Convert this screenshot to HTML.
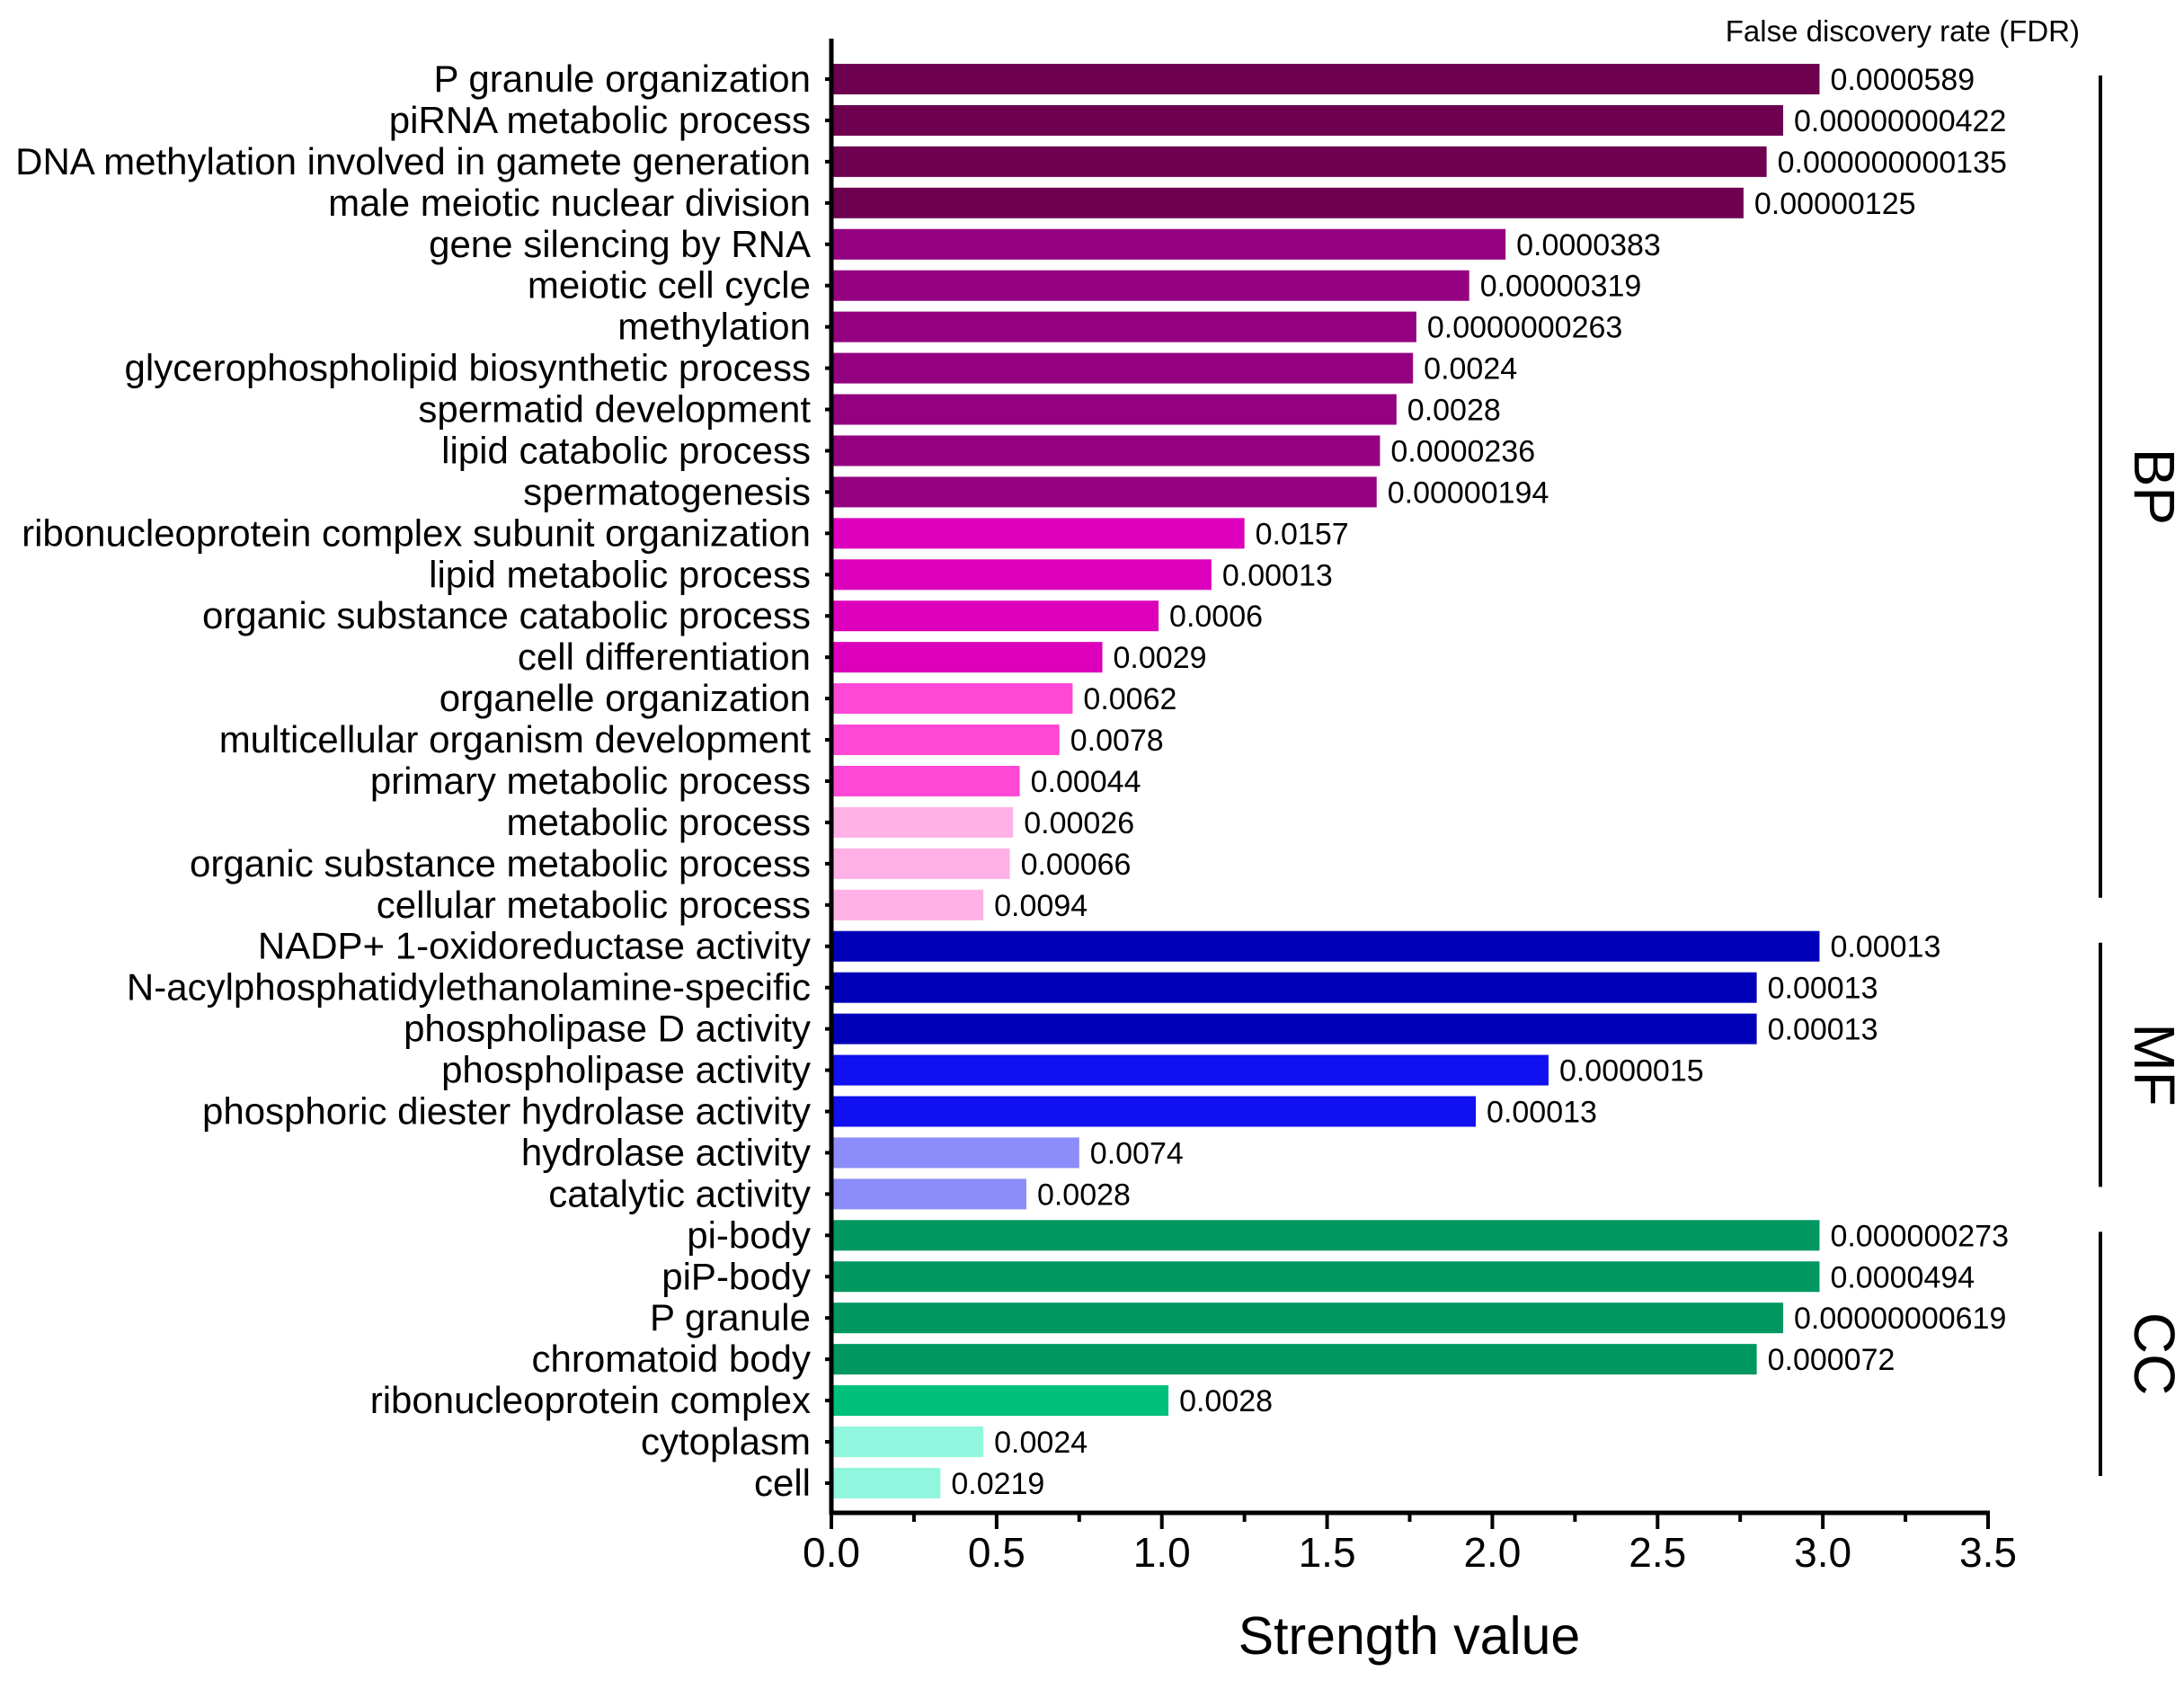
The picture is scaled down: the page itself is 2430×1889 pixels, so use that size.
<!DOCTYPE html>
<html><head><meta charset="utf-8"><style>
html,body{margin:0;padding:0;background:#fff;}
svg{display:block;font-family:"Liberation Sans",Arial,sans-serif;}
</style></head><body>
<svg id="chart" width="2430" height="1889" viewBox="0 0 2430 1889" xmlns="http://www.w3.org/2000/svg">
<g id="bars"></g>
<g id="axes"></g>
</svg>
<script>
const categories = ["P granule organization","piRNA metabolic process","DNA methylation involved in gamete generation","male meiotic nuclear division","gene silencing by RNA","meiotic cell cycle","methylation","glycerophospholipid biosynthetic process","spermatid development","lipid catabolic process","spermatogenesis","ribonucleoprotein complex subunit organization","lipid metabolic process","organic substance catabolic process","cell differentiation","organelle organization","multicellular organism development","primary metabolic process","metabolic process","organic substance metabolic process","cellular metabolic process","NADP+ 1-oxidoreductase activity","N-acylphosphatidylethanolamine-specific","phospholipase D activity","phospholipase activity","phosphoric diester hydrolase activity","hydrolase activity","catalytic activity","pi-body","piP-body","P granule","chromatoid body","ribonucleoprotein complex","cytoplasm","cell"];
const strengths = [2.99,2.88,2.83,2.76,2.04,1.93,1.77,1.76,1.71,1.66,1.65,1.25,1.15,0.99,0.82,0.73,0.69,0.57,0.55,0.54,0.46,2.99,2.80,2.80,2.17,1.95,0.75,0.59,2.99,2.99,2.88,2.80,1.02,0.46,0.33];
const fdrLabels = ["0.0000589","0.00000000422","0.000000000135","0.00000125","0.0000383","0.00000319","0.0000000263","0.0024","0.0028","0.0000236","0.00000194","0.0157","0.00013","0.0006","0.0029","0.0062","0.0078","0.00044","0.00026","0.00066","0.0094","0.00013","0.00013","0.00013","0.0000015","0.00013","0.0074","0.0028","0.000000273","0.0000494","0.00000000619","0.000072","0.0028","0.0024","0.0219"];
const colorGroups = ["#6e0050","#6e0050","#6e0050","#6e0050","#930080","#930080","#930080","#930080","#930080","#930080","#930080","#dc00bc","#dc00bc","#dc00bc","#dc00bc","#ff48d6","#ff48d6","#ff48d6","#ffb0e6","#ffb0e6","#ffb0e6","#0000b8","#0000b8","#0000b8","#1010f0","#1010f0","#8c8cfa","#8c8cfa","#009860","#009860","#009860","#009860","#00c07c","#90f7de","#90f7de"];
const xTicks = [0,0.5,1.0,1.5,2.0,2.5,3.0,3.5];
const groups = [{name:"BP",from:0,to:20},{name:"MF",from:21,to:27},{name:"CC",from:28,to:34}];

const NS="http://www.w3.org/2000/svg";
const X0=925, X1=2212, XMAX=3.5, Y0=88, STEP=45.94, BH=34, AXY=1683;
const xs=v=>X0+(X1-X0)*v/XMAX;
const ys=i=>Y0+i*STEP;
function mk(tag,attrs,parent,text){const e=document.createElementNS(NS,tag);for(const k in attrs)e.setAttribute(k,attrs[k]);if(text!==undefined)e.textContent=text;parent.appendChild(e);return e;}
const bars=document.getElementById('bars'), axes=document.getElementById('axes');
categories.forEach((c,i)=>{
  const y=ys(i);
  const r=mk('rect',{x:X0,y:y-BH/2,width:xs(strengths[i])-X0,height:BH,fill:colorGroups[i]},bars);
  
  
  const l=mk('text',{x:902,y:y+14,'text-anchor':'end','font-size':42,fill:'#000'},axes,c);
  
  
  mk('line',{x1:918,x2:925,y1:y,y2:y,stroke:'#000','stroke-width':4},axes);
  const v=mk('text',{x:xs(strengths[i])+12,y:y+12,'font-size':34,fill:'#000'},axes,fdrLabels[i]);
  
  
});
mk('line',{x1:X0,x2:X0,y1:43,y2:AXY+2,stroke:'#000','stroke-width':5},axes);
mk('line',{x1:X0-2,x2:X1+2,y1:AXY,y2:AXY,stroke:'#000','stroke-width':5},axes);
for(let v=0;v<=XMAX+1e-9;v+=0.25){mk('line',{x1:xs(v),x2:xs(v),y1:AXY,y2:AXY+(Math.abs(v*2-Math.round(v*2))<1e-6?18:10),stroke:'#000','stroke-width':4},axes);}
xTicks.forEach(t=>{const e=mk('text',{x:xs(t),y:1743,'text-anchor':'middle','font-size':46,fill:'#000'},axes,t.toFixed(1));
  
  });
const xt=mk('text',{x:1568,y:1840,'text-anchor':'middle','font-size':59,fill:'#000'},axes,'Strength value');


const ft=mk('text',{x:2314,y:46,'text-anchor':'end','font-size':33,fill:'#000'},axes,'False discovery rate (FDR)');


groups.forEach(g=>{
  const ya=ys(g.from)-4, yb=ys(g.to)-8;
  const ln=mk('line',{x1:2337,x2:2337,y1:ya,y2:yb,stroke:'#000','stroke-width':4},axes);
  
  
  const cy=(ya+yb)/2;
  const t=mk('text',{x:2375,y:cy,'text-anchor':'middle','font-size':64,fill:'#000',transform:`rotate(90 2375 ${cy})`},axes,g.name);
  
  
});
</script>
</body></html>
